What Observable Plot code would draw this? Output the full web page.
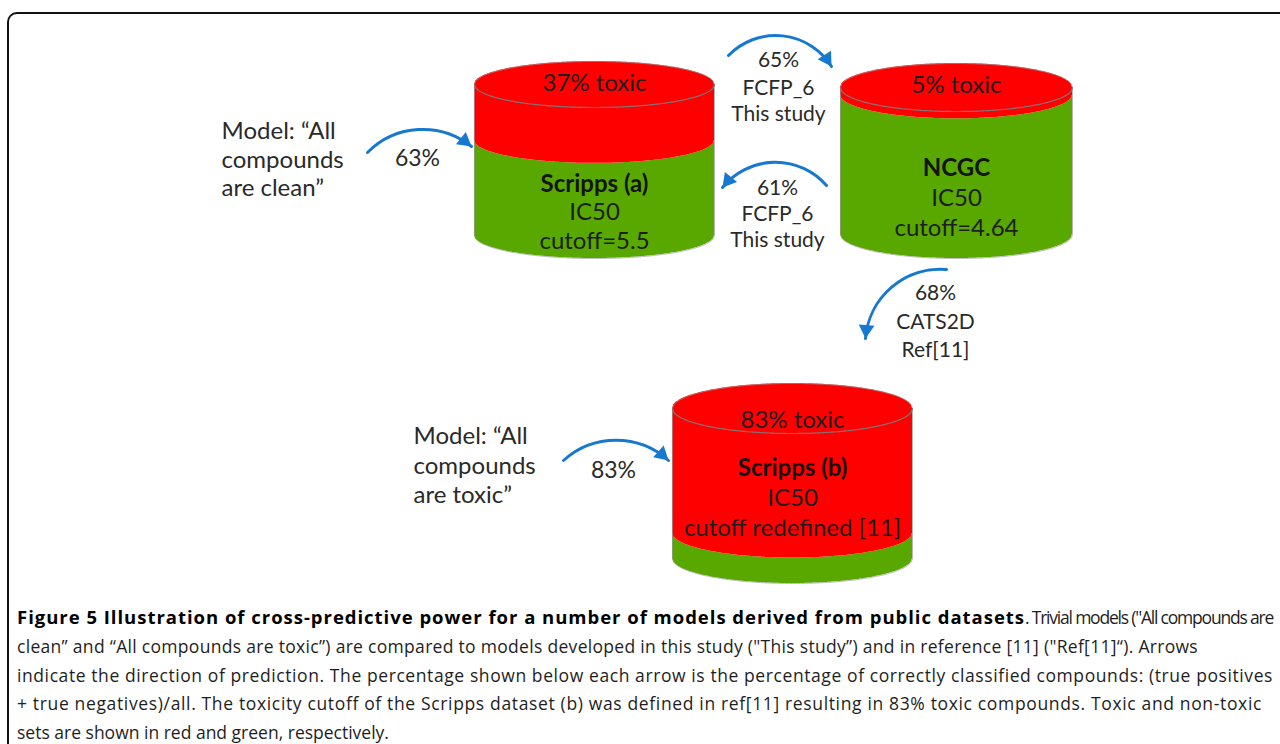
<!DOCTYPE html>
<html>
<head>
<meta charset="utf-8">
<script src="https://cdn.jsdelivr.net/npm/d3@7"></script>
<script src="https://cdn.jsdelivr.net/npm/@observablehq/plot@0.6"></script>
<style>
html, body { margin: 0; padding: 0; background: #fff; width: 1280px; height: 744px; overflow: hidden; position: relative; }
#frame { position: absolute; left: 7px; top: 12px; width: 1400px; height: 800px; border-left: 2px solid #111; border-top: 2px solid #111; border-top-left-radius: 10px; box-sizing: border-box; }
#chart { position: absolute; left: 0; top: 0; }
#caption { position: absolute; left: 17px; top: 603px; font-family: "Open Sans", sans-serif; font-size: 17.5px; line-height: 28.8px; color: #1e1e1e; white-space: nowrap; }
#caption span { display: inline-block; }
#caption b { color: #000; font-size: 18.5px; }
</style>
</head>
<body>
<div id="frame"></div>
<div id="chart"></div>
<div id="caption"></div>
<script>
// ---------- data ----------
const datasetNames = ["Scripps (a)", "NCGC", "Scripps (b)"];
const toxicPercent = [37, 5, 83];
const datasetDetails = [["IC50", "cutoff=5.5"], ["IC50", "cutoff=4.64"], ["IC50", "cutoff redefined [11]"]];
const arrowPercent = [63, 65, 61, 68, 83];
const arrowMethod = ["", "FCFP_6", "FCFP_6", "CATS2D", ""];
const arrowSource = ["", "This study", "This study", "Ref[11]", ""];
const modelLines = [["Model: “All", "compounds", "are clean”"], ["Model: “All", "compounds", "are toxic”"]];
const captionTitle = "Figure 5 Illustration of cross-predictive power for a number of models derived from public datasets";
const captionLines = [
  ". Trivial models (\"All compounds are",
  "clean” and “All compounds are toxic”) are compared to models developed in this study (\"This study”) and in reference [11] (\"Ref[11]“). Arrows",
  "indicate the direction of prediction. The percentage shown below each arrow is the percentage of correctly classified compounds: (true positives",
  "+ true negatives)/all. The toxicity cutoff of the Scripps dataset (b) was defined in ref[11] resulting in 83% toxic compounds. Toxic and non-toxic",
  "sets are shown in red and green, respectively."
];

// ---------- layout (positions / styles) ----------
const W = 1280, H = 600;
const RED = "#ff0000", GREEN = "#58a800", BLUE = "#1778d0", TEXT = "#2a2a2a";
const cylLayout = [
  {cx: 594, rx: 120, ry: 23, top: 84, bottom: 235, label: 83, name: 184, details: [212, 241]},
  {cx: 956, rx: 116, ry: 24, top: 87, bottom: 234, label: 85, name: 168, details: [198, 228]},
  {cx: 792, rx: 120, ry: 25, top: 408, bottom: 558, label: 420, name: 468, details: [498, 528]}
];
const arrowLayout = [
  {x1: 367, y1: 152, x2: 471, y2: 146, bend: 42, tx: 417, ty: [158]},
  {x1: 728, y1: 55, x2: 831, y2: 66, bend: 52, tx: 778, ty: [60, 88, 114]},
  {x1: 826, y1: 185, x2: 722, y2: 187, bend: -50, tx: 777, ty: [188, 214, 240]},
  {x1: 946, y1: 269, x2: 865, y2: 338, bend: -45, tx: 935, ty: [293, 322, 350]},
  {x1: 563, y1: 460, x2: 668, y2: 460, bend: 42, tx: 613, ty: [470]}
];
const modelLayout = [{x: 221, y: [131, 160, 188]}, {x: 413, y: [436, 466, 495]}];
// caption right edges per line (bold part, then each line)
const captionBoldRight = 1025;
const captionRight = [1273, 1198, 1273, 1262, null];

// ---------- cylinder geometry ----------
const N = 180;
const redArea = [], greenArea = [], seam = [], outline = [];
datasetNames.forEach((name, i) => {
  const L = cylLayout[i];
  const boundary = L.top + toxicPercent[i] / 100 * (L.bottom - L.top);
  const back = [], front = [];
  for (let k = 0; k <= N; k++) {
    const x = L.cx - L.rx + 2 * L.rx * k / N;
    const u = (x - L.cx) / L.rx;
    const h = L.ry * Math.sqrt(Math.max(0, 1 - u * u));
    redArea.push({id: name, x, y1: L.top - h, y2: boundary + h});
    greenArea.push({id: name, x, y1: boundary + h, y2: L.bottom + h});
    seam.push({id: name, x, y: L.top + h});
    back.push({id: name, x, y: L.top - h});
    front.push({id: name, x, y: L.bottom + h});
  }
  outline.push(...back, ...front.reverse(), back[0]);
});

// ---------- texts ----------
const plainTexts = [], boldTexts = [];
datasetNames.forEach((name, i) => {
  const L = cylLayout[i];
  plainTexts.push({x: L.cx, y: L.label, t: `${toxicPercent[i]}% toxic`});
  boldTexts.push({x: L.cx, y: L.name, t: name});
  datasetDetails[i].forEach((d, j) => plainTexts.push({x: L.cx, y: L.details[j], t: d}));
});
const arrowTexts = [];
arrowPercent.forEach((p, i) => {
  const A = arrowLayout[i];
  const lines = [`${p}%`, arrowMethod[i], arrowSource[i]].filter(s => s);
  lines.forEach((s, j) => arrowTexts.push({x: A.tx, y: A.ty[j], t: s, big: lines.length === 1}));
});
const modelTexts = [];
modelLines.forEach((lines, i) => lines.forEach((s, j) => modelTexts.push({x: modelLayout[i].x, y: modelLayout[i].y[j], t: s})));

// ---------- arrow heads ----------
const heads = arrowLayout.map(A => {
  const ang = Math.atan2(A.y2 - A.y1, A.x2 - A.x1) + A.bend * Math.PI / 180;
  const back = 9;
  return {x: A.x2 - back * Math.cos(ang), y: A.y2 - back * Math.sin(ang), rot: ang * 180 / Math.PI + 90};
});

const marks = [
  Plot.areaY(greenArea, {x: "x", y1: "y1", y2: "y2", z: "id", fill: GREEN, curve: "linear"}),
  Plot.areaY(redArea, {x: "x", y1: "y1", y2: "y2", z: "id", fill: RED, curve: "linear"}),
  Plot.line(outline, {x: "x", y: "y", z: "id", stroke: "#9a9a9a", strokeWidth: 1, strokeOpacity: 0.7}),
  Plot.line(seam, {x: "x", y: "y", z: "id", stroke: "#8a7070", strokeWidth: 1.2}),
  ...arrowLayout.map(A => Plot.arrow([A], {x1: "x1", y1: "y1", x2: "x2", y2: "y2", bend: A.bend, stroke: BLUE, strokeWidth: 3, headLength: 0})),
  Plot.dot(heads, {x: "x", y: "y", rotate: "rot", symbol: "triangle2", r: 7.5, fill: BLUE, stroke: "none"}),
  Plot.text(plainTexts, {x: "x", y: "y", text: "t", fontSize: 24, fontFamily: "Lato", fill: "#1e1e1e"}),
  Plot.text(boldTexts, {x: "x", y: "y", text: "t", fontWeight: "bold", fontSize: 24, fontFamily: "Lato", fill: "#141414"}),
  Plot.text(arrowTexts, {x: "x", y: "y", text: "t", fontSize: d => d.big ? 23 : 21, fontFamily: "Lato", fill: TEXT}),
  Plot.text(modelTexts, {x: "x", y: "y", text: "t", textAnchor: "start", fontSize: 24, fontFamily: "Lato", fill: TEXT})
];

const chart = Plot.plot({
  width: W, height: H, margin: 0,
  x: {domain: [0, W], range: [0, W], axis: null},
  y: {domain: [0, H], range: [0, H], axis: null},
  style: {background: "transparent"},
  marks
});
document.getElementById("chart").append(chart);

// ---------- caption ----------
const cap = document.getElementById("caption");
const spans = [];
let boldSpan = null;
captionLines.forEach((t, i) => {
  const div = document.createElement("div");
  const s = document.createElement("span");
  s.textContent = t;
  if (i === 0) {
    boldSpan = document.createElement("b");
    boldSpan.style.display = "inline-block";
    boldSpan.textContent = captionTitle;
    div.append(boldSpan);
  }
  div.append(s);
  spans.push(s);
  cap.append(div);
});
function fitCaption() {
  const left = cap.getBoundingClientRect().left;
  boldSpan.style.letterSpacing = "0px";
  const bw = boldSpan.getBoundingClientRect().width;
  boldSpan.style.letterSpacing = ((captionBoldRight - left - bw) / boldSpan.textContent.length) + "px";
  spans.forEach((s, i) => {
    if (captionRight[i] == null) return;
    s.style.letterSpacing = "0px";
    const r = s.getBoundingClientRect();
    s.style.letterSpacing = ((captionRight[i] - r.right) / s.textContent.length) + "px";
  });
}
fitCaption();
if (document.fonts && document.fonts.ready) document.fonts.ready.then(fitCaption);
</script>
</body>
</html>
